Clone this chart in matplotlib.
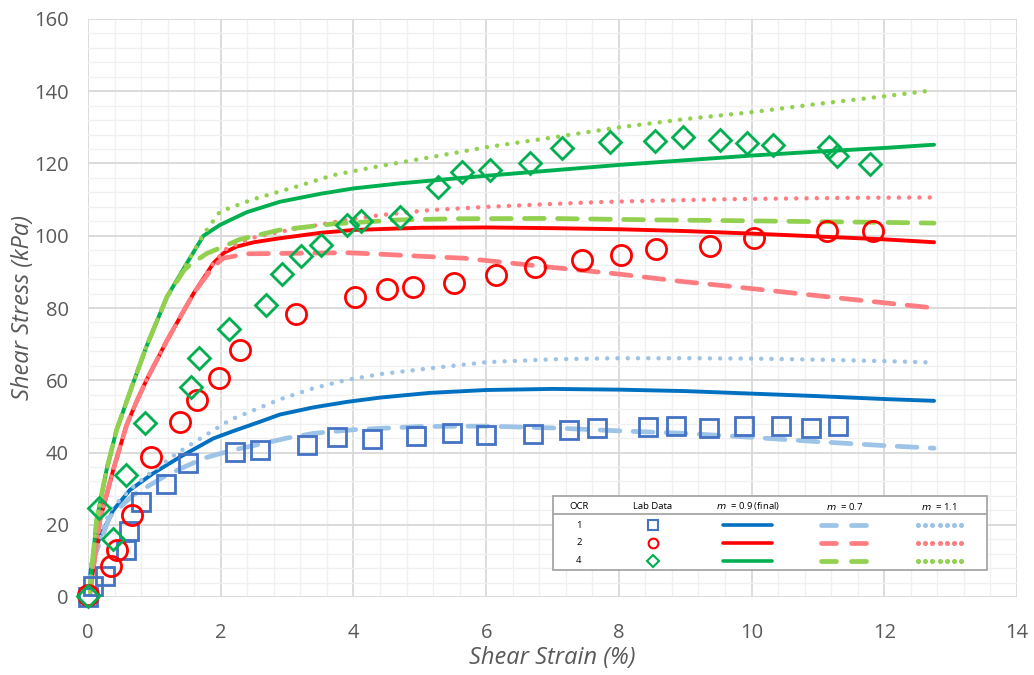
import matplotlib
matplotlib.use("Agg")
import matplotlib.pyplot as plt
from matplotlib.lines import Line2D
from matplotlib.patches import Rectangle
import numpy as np

# ---------------- lab data (shear strain %, shear stress kPa) ----------------
ocr1_strain = [0, 0.08, 0.26, 0.58, 0.62, 0.80, 1.18, 1.51, 2.22, 2.59, 3.30, 3.75,
               4.28, 4.95, 5.48, 6.00, 6.71, 7.25, 7.67, 8.44, 8.86, 9.36, 9.88,
               10.45, 10.90, 11.30]
ocr1_stress = [0, 3.1, 5.9, 13.0, 18.3, 26.2, 31.2, 37.2, 40.1, 40.7, 42.1, 44.3,
               43.7, 44.6, 45.5, 44.8, 45.1, 46.2, 46.7, 47.0, 47.3, 46.7, 47.3,
               47.3, 46.9, 47.3]

ocr2_strain = [0, 0.34, 0.44, 0.67, 0.95, 1.39, 1.65, 1.97, 2.29, 3.14, 4.02, 4.51,
               4.90, 5.51, 6.15, 6.74, 7.44, 8.03, 8.56, 9.37, 10.04, 11.14, 11.83]
ocr2_stress = [0.5, 8.7, 13.0, 22.7, 38.7, 48.5, 54.5, 60.5, 68.3, 78.3, 83.0, 85.3,
               85.7, 87.0, 89.2, 91.3, 93.3, 94.8, 96.4, 97.2, 99.4, 101.4, 101.4]

ocr4_strain = [0, 0.16, 0.37, 0.58, 0.86, 1.55, 1.67, 2.12, 2.68, 2.93, 3.21, 3.51,
               3.90, 4.11, 4.70, 5.28, 5.63, 6.06, 6.66, 7.15, 7.86, 8.54, 8.97,
               9.52, 9.93, 10.33, 11.16, 11.28, 11.79]
ocr4_stress = [0.4, 24.5, 16.1, 33.8, 48.1, 58.2, 66.2, 74.2, 80.8, 89.4, 94.5, 97.5,
               103.0, 104.2, 105.3, 113.4, 117.6, 118.2, 120.2, 124.2, 125.9, 126.3,
               127.4, 126.5, 125.8, 125.1, 124.5, 122.1, 119.9]

# ---------------- model curves ----------------
# OCR 1
m09_ocr1_x = [0, 0.05, 0.18, 0.38, 0.63, 0.98, 1.39, 1.89, 2.2, 2.59, 2.89, 3.4, 3.9,
              4.4, 5.15, 6.0, 7.0, 8.0, 9.0, 10.0, 11.0, 12.0, 12.75]
m09_ocr1_y = [0, 9.0, 16.7, 24.0, 29.6, 34.2, 38.8, 43.9, 46.0, 48.5, 50.5, 52.5, 54.0,
              55.2, 56.5, 57.3, 57.6, 57.4, 57.0, 56.3, 55.6, 54.8, 54.3]
m07_ocr1_x = [0, 0.05, 0.33, 0.68, 1.19, 1.74, 2.19, 2.59, 3.0, 3.4, 4.0, 5.0, 6.0,
              7.0, 8.0, 9.0, 10.0, 11.0, 12.0, 12.75]
m07_ocr1_y = [0, 9.0, 22.2, 28.2, 33.8, 38.4, 40.7, 42.3, 44.0, 45.3, 46.3, 47.2, 47.3,
              46.8, 46.0, 45.3, 44.2, 43.0, 41.9, 41.2]
m11_ocr1_x = [0, 0.05, 0.33, 0.68, 0.93, 1.34, 1.74, 2.14, 2.89, 3.4, 3.9, 4.4, 5.15,
              6.0, 7.0, 8.0, 9.0, 10.0, 11.0, 12.0, 12.75]
m11_ocr1_y = [0, 9.0, 24.1, 30.5, 34.2, 39.8, 44.4, 49.0, 54.7, 57.8, 60.1, 61.7, 63.3,
              65.0, 65.8, 66.1, 66.1, 66.0, 65.7, 65.3, 64.9]

# OCR 2
m09_ocr2_x = [0, 0.03, 0.18, 0.38, 0.58, 0.73, 0.88, 1.19, 1.59, 1.89, 2.05, 2.24,
              2.5, 2.89, 3.5, 4.0, 5.0, 6.0, 7.0, 8.0, 9.0, 10.0, 11.0, 12.0, 12.75]
m09_ocr2_y = [0, 1.0, 21.3, 35.2, 47.5, 54.0, 60.0, 71.0, 84.0, 92.4, 95.3, 97.0,
              98.2, 99.3, 100.8, 101.6, 102.2, 102.3, 102.1, 101.8, 101.3, 100.6,
              99.8, 99.0, 98.2]
m07_ocr2_x = [0, 0.03, 0.18, 0.38, 0.58, 0.73, 0.88, 1.19, 1.59, 1.89, 2.04, 2.39,
              2.89, 3.9, 4.4, 5.15, 5.66, 6.91, 8.0, 8.92, 9.62, 10.5, 11.5, 12.44,
              12.75]
m07_ocr2_y = [0, 1.0, 21.3, 35.2, 47.5, 54.0, 60.0, 71.0, 84.0, 91.5, 93.8, 95.0,
              95.1, 95.3, 94.9, 94.2, 93.8, 91.4, 89.4, 87.4, 86.1, 84.4, 82.4, 80.6,
              80.0]
m11_ocr2_x = [0, 0.03, 0.18, 0.38, 0.58, 0.73, 0.88, 1.19, 1.59, 1.89, 2.09, 2.5,
              2.89, 3.9, 4.4, 5.15, 6.01, 7.0, 7.67, 8.5, 9.62, 10.5, 11.5, 12.75]
m11_ocr2_y = [0, 1.0, 21.3, 35.2, 47.5, 54.0, 60.0, 71.0, 84.0, 92.4, 96.5, 99.5,
              101.1, 104.4, 105.7, 107.1, 108.0, 108.8, 109.3, 109.7, 110.1, 110.3,
              110.5, 110.6]

# OCR 4
m09_ocr4_x = [0, 0.03, 0.13, 0.28, 0.43, 0.68, 0.88, 1.19, 1.49, 1.74, 1.89, 1.99,
              2.39, 2.89, 3.5, 4.0, 4.7, 5.5, 6.0, 7.0, 8.0, 9.0, 10.0, 11.0, 12.0,
              12.75]
m09_ocr4_y = [0, 2.9, 21.3, 35.2, 46.2, 59.2, 69.3, 83.1, 92.4, 100.0, 101.8, 103.0,
              106.5, 109.4, 111.6, 113.1, 114.5, 115.8, 116.6, 118.1, 119.6, 120.9,
              122.2, 123.3, 124.3, 125.2]
m07_ocr4_x = [0, 0.03, 0.13, 0.28, 0.43, 0.68, 0.88, 1.19, 1.45, 1.54, 1.79, 2.04,
              2.29, 2.89, 3.70, 4.70, 5.5, 6.91, 8.52, 9.62, 11.0, 12.0, 12.75]
m07_ocr4_y = [0, 2.9, 21.3, 35.2, 46.2, 59.2, 69.3, 83.1, 90.5, 92.0, 95.1, 97.0,
              99.0, 101.6, 103.3, 104.4, 104.7, 104.8, 104.4, 104.2, 103.9, 103.7,
              103.5]
m11_ocr4_x = [0, 0.03, 0.13, 0.28, 0.43, 0.68, 0.88, 1.19, 1.49, 1.74, 1.99, 2.49,
              3.14, 3.70, 4.4, 5.15, 6.0, 7.0, 8.0, 9.0, 10.0, 11.0, 12.0, 12.75]
m11_ocr4_y = [0, 2.9, 21.3, 35.2, 46.2, 59.2, 69.3, 83.1, 92.4, 100.4, 106.7, 110.1,
              113.6, 116.8, 119.3, 121.7, 124.5, 127.2, 130.0, 132.3, 134.2, 136.5,
              138.6, 140.3]

x_ticks = [0, 2, 4, 6, 8, 10, 12, 14]
y_ticks = [0, 20, 40, 60, 80, 100, 120, 140, 160]
ocr_labels = ["1", "2", "4"]
m_labels = ["0.9 (final)", "0.7", "1.1"]

# ---------------- styling ----------------
dark = {"1": "#0070C0", "2": "#FF0000", "4": "#00B050"}
light = {"1": "#9DC3E6", "2": "#FF7C80", "4": "#92D050"}
mark = {"1": ("s", "#4472C4"), "2": ("o", "#FF0000"), "4": ("D", "#00B050")}
tick_col = "#595959"
font = ["Open Sans", "DejaVu Sans"]

plt.rcParams["font.family"] = font

fig = plt.figure(figsize=(10.34, 6.75), dpi=100)
ax = fig.add_axes([88 / 1034, 1 - 597 / 675, 929 / 1034, 578 / 675])

ax.set_xlim(0, 14)
ax.set_ylim(0, 160)
ax.set_xticks(x_ticks)
ax.set_yticks(y_ticks)
ax.set_xticks(np.arange(0, 14.01, 0.4), minor=True)
ax.set_yticks(np.arange(0, 160.01, 4), minor=True)
ax.grid(which="major", color="#D9D9D9", lw=1.3, zorder=0)
ax.grid(which="minor", color="#F0F0F0", lw=1.0, zorder=0)
ax.set_axisbelow(True)
for s in ax.spines.values():
    s.set_visible(False)
ax.tick_params(which="both", length=0)
ax.tick_params(axis="x", pad=19, labelsize=14.5, labelcolor=tick_col)
ax.tick_params(axis="y", pad=14, labelsize=14.5, labelcolor=tick_col)
ax.set_xlabel("Shear Strain (%)", fontsize=17, style="italic", color=tick_col, labelpad=2)
ax.set_ylabel("Shear Stress (kPa)", fontsize=17, style="italic", color=tick_col, labelpad=-1)

solid_kw = dict(lw=2.8, solid_capstyle="round", zorder=3)
dash_kw = dict(lw=3.4, linestyle=(0, (4.2, 2.8)), dash_capstyle="round", zorder=3.2)
dot_kw = dict(lw=3.2, linestyle=(0, (0.01, 2.3)), dash_capstyle="round", zorder=3.1)

curves = [
    ("1", m09_ocr1_x, m09_ocr1_y, m07_ocr1_x, m07_ocr1_y, m11_ocr1_x, m11_ocr1_y),
    ("2", m09_ocr2_x, m09_ocr2_y, m07_ocr2_x, m07_ocr2_y, m11_ocr2_x, m11_ocr2_y),
    ("4", m09_ocr4_x, m09_ocr4_y, m07_ocr4_x, m07_ocr4_y, m11_ocr4_x, m11_ocr4_y),
]
for key, x9, y9, x7, y7, x11, y11 in curves:
    ax.plot(x9, y9, color=dark[key], **solid_kw)
    ax.plot(x11, y11, color=light[key], **dot_kw)
    ax.plot(x7, y7, color=light[key], **dash_kw)

lab = [("1", ocr1_strain, ocr1_stress, 13),
       ("2", ocr2_strain, ocr2_stress, 14.5),
       ("4", ocr4_strain, ocr4_stress, 11)]
for key, xs, ys, ms in lab:
    m, c = mark[key]
    ax.plot(xs, ys, linestyle="none", marker=m, ms=ms, mfc="none", mec=c,
            mew=2.0, zorder=4, clip_on=False)

# ---------------- legend table ----------------
T = ax.transAxes
def fx(px):
    return (px - 88) / 929
def fy(py):
    return (597 - py) / 578

ax.add_patch(Rectangle((fx(553), fy(570)), fx(987) - fx(553), fy(496) - fy(570),
                       transform=T, facecolor="white", edgecolor="#A6A6A6",
                       lw=1.3, zorder=6))
ax.add_line(Line2D([fx(553), fx(987)], [fy(514), fy(514)], transform=T,
                   color="#A6A6A6", lw=1.3, zorder=7))

hdr_y = fy(506.5)
small = 6.8
ax.text(fx(579), hdr_y, "OCR", transform=T, ha="center", va="center",
        fontsize=small, zorder=8)
ax.text(fx(653), hdr_y, "Lab Data", transform=T, ha="center", va="center",
        fontsize=small, zorder=8)
for cx, lbl in zip([748, 845, 939], m_labels):
    ax.text(fx(cx), hdr_y, r"$m$" + "  = " + lbl, transform=T, ha="center",
            va="center", fontsize=small, zorder=8)

row_y = [525, 542.5, 560.5]
for key, ry in zip(ocr_labels, row_y):
    yy = fy(ry)
    ax.text(fx(579), yy, key, transform=T, ha="center", va="center",
            fontsize=small, zorder=8)
    m, c = mark[key]
    ax.add_line(Line2D([fx(653)], [yy], transform=T, marker=m, ms=7 if m != "D" else 6,
                       mfc="none", mec=c, mew=1.5, linestyle="none", zorder=8))
    ax.add_line(Line2D([fx(723), fx(772)], [yy, yy], transform=T, color=dark[key],
                       lw=2.6, solid_capstyle="round", zorder=8))
    for a, b in [(821, 836), (851, 866)]:
        ax.add_line(Line2D([fx(a), fx(b)], [yy, yy], transform=T, color=light[key],
                           lw=3.4, solid_capstyle="round", zorder=8))
    ax.add_line(Line2D(np.linspace(fx(918), fx(961), 7), [yy] * 7, transform=T,
                       color=light[key], marker="o", ms=2.6, linestyle="none",
                       zorder=8))

fig.savefig("out.png", dpi=100)
